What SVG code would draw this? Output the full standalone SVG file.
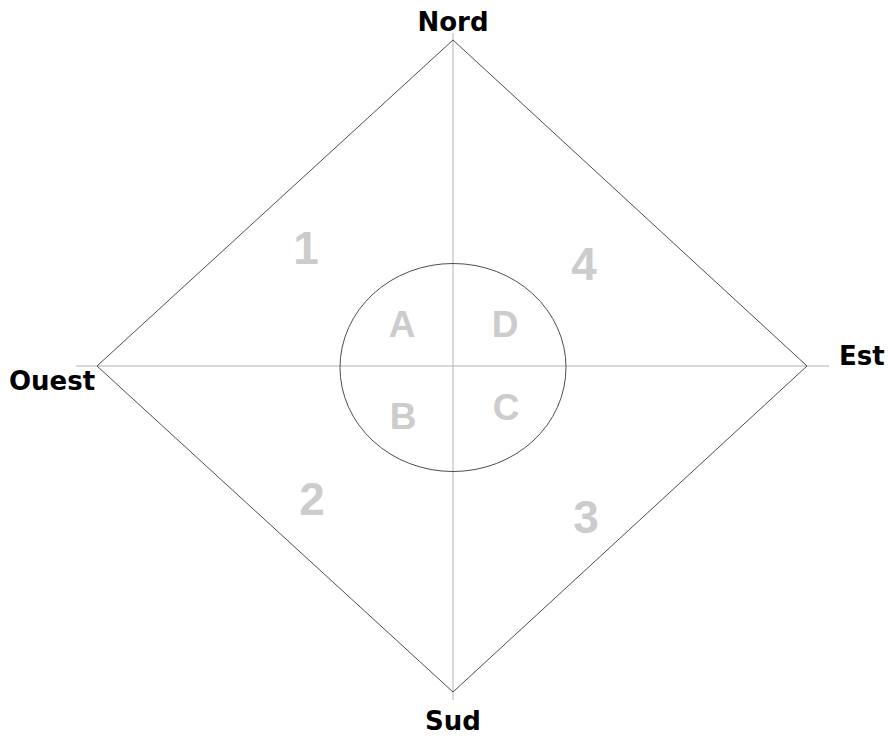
<svg xmlns="http://www.w3.org/2000/svg" width="889" height="736" viewBox="0 0 889 736">
<style>
.axis{stroke:#b3b3b3;stroke-width:1;fill:none}
.edge{stroke:#4d4d4d;stroke-width:1;fill:none}
.dir{font-family:"DejaVu Sans",Verdana,sans-serif;font-weight:bold;font-size:26px;fill:#000}
.big{font-family:"Liberation Sans",Arial,sans-serif;font-weight:bold;font-size:46px;fill:#cccccc;text-anchor:middle}
.mid{font-family:"Liberation Sans",Arial,sans-serif;font-weight:bold;font-size:37px;fill:#cccccc;text-anchor:middle}
</style>
<rect width="889" height="736" fill="#fff"/>
<g id="connectors">
<line class="axis" x1="453" y1="33" x2="453" y2="700"/>
<line class="axis" x1="76" y1="366" x2="829" y2="366"/>
<polygon class="edge" points="453,40 807,366 453,692 97,366"/>
</g>
<g id="circle"><ellipse class="edge" cx="453" cy="367.5" rx="113" ry="104"/></g>
<g id="nord"><text class="dir" x="453" y="31" text-anchor="middle">Nord</text></g>
<g id="ouest"><text class="dir" x="9" y="390">Ouest</text></g>
<g id="est"><text class="dir" x="839" y="365">Est</text></g>
<g id="sud"><text class="dir" x="453" y="730" text-anchor="middle">Sud</text></g>
<g id="q1"><text class="big" x="306" y="264">1</text></g>
<g id="q2"><text class="big" x="312" y="515">2</text></g>
<g id="q3"><text class="big" x="586" y="533">3</text></g>
<g id="q4"><text class="big" x="584" y="280">4</text></g>
<g id="qA"><text class="mid" x="402" y="337">A</text></g>
<g id="qB"><text class="mid" x="403" y="429">B</text></g>
<g id="qC"><text class="mid" x="506" y="420">C</text></g>
<g id="qD"><text class="mid" x="505" y="337">D</text></g>
</svg>
